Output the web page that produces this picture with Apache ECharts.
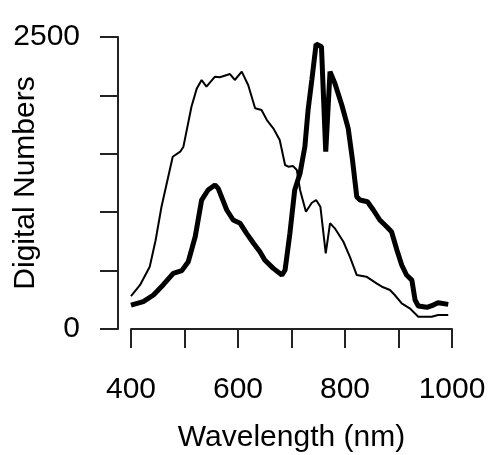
<!DOCTYPE html>
<html><head><meta charset="utf-8">
<script src="https://cdn.jsdelivr.net/npm/echarts@6/dist/echarts.min.js"></script>
<style>html,body{margin:0;padding:0;background:#fff}#c{width:489px;height:455px}</style>
</head><body><div id="c"></div>
<script>
// Thin line: [wavelength, digital number]
const thinWl  = [400,417,435,446,457,478,492,498,513,523,532,541,557,566,585,594,607,619,632,644,654,666,678,688,694,703,710,716,727,738,746,754,764,772,781,797,809,822,840,859,869,884,893,906,921,937,962,974,993];
const thinDN  = [282,377,533,760,1047,1475,1518,1561,1903,2060,2132,2075,2160,2155,2183,2132,2203,2089,1890,1875,1789,1718,1618,1404,1390,1395,1361,1190,1004,1081,1104,1047,648,905,862,747,619,462,448,391,362,334,291,220,177,105,105,120,120];
// Thick line
const thickWl = [400,423,442,460,479,495,507,520,532,544,557,563,579,591,604,616,629,641,650,666,682,688,697,706,716,725,731,738,746,756,764,772,781,794,806,814,822,828,842,853,865,878,887,897,906,915,925,931,937,953,965,974,993];
const thickDN = [205,234,291,377,477,500,576,790,1104,1190,1233,1204,1019,933,905,819,734,662,591,519,462,505,819,1190,1333,1561,1875,2132,2440,2417,1518,2203,2104,1918,1718,1447,1133,1104,1090,1019,933,876,833,676,548,462,419,248,197,186,205,225,211];
const xTicks = [400,600,800,1000];
const yTicks = [0,2500];

const zip = (a,b)=>a.map((v,i)=>[v,b[i]]);
const font = 'Liberation Sans, Arial, sans-serif';
const chart = echarts.init(document.getElementById('c'), null, {renderer:'canvas'});
chart.setOption({
  animation:false,
  backgroundColor:'#fff',
  grid:{left:131, right:37, top:37, bottom:126, containLabel:false, outerBoundsMode:'none'},
  xAxis:{
    type:'value', min:400, max:1000, interval:100, offset:11,
    name:'Wavelength (nm)', nameLocation:'middle', nameGap:83, nameMoveOverlap:false,
    nameTextStyle:{color:'#000', fontSize:30, fontFamily:font},
    axisLine:{show:true, lineStyle:{color:'#222', width:2}},
    axisTick:{show:true, length:19, lineStyle:{color:'#222', width:2}},
    axisLabel:{color:'#000', fontSize:30, fontFamily:font, margin:35,
      formatter:v=>xTicks.includes(v)?String(v):''},
    splitLine:{show:false}
  },
  yAxis:{
    type:'value', min:0, max:2500, interval:500, offset:13,
    name:'Digital Numbers', nameLocation:'middle', nameGap:77, nameMoveOverlap:false,
    nameTextStyle:{color:'#000', fontSize:30, fontFamily:font},
    axisLine:{show:true, lineStyle:{color:'#222', width:2}},
    axisTick:{show:true, length:18, lineStyle:{color:'#222', width:2}},
    axisLabel:{color:'#000', fontSize:30, fontFamily:font, margin:38,
      formatter:v=>yTicks.includes(v)?String(v):''},
    splitLine:{show:false}
  },
  series:[
    {type:'line', data:zip(thinWl,thinDN), symbol:'none', lineStyle:{color:'#000', width:2}},
    {type:'line', data:zip(thickWl,thickDN), symbol:'none', lineStyle:{color:'#000', width:5}}
  ]
});
</script></body></html>
